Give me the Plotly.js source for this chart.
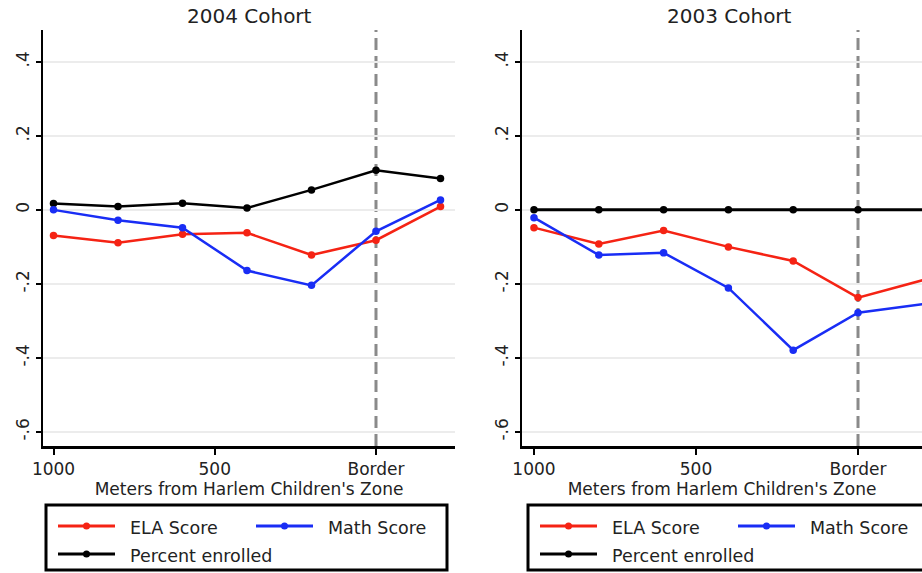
<!DOCTYPE html>
<html>
<head>
<meta charset="utf-8">
<script src="https://cdn.plot.ly/plotly-3.0.1.min.js"></script>
<style>html,body{margin:0;padding:0;background:#fff;}#chart{width:922px;height:573px;}</style>
</head>
<body>
<div id="chart"></div>
<script>
// ---- data ----
const distances = [1000, 800, 600, 400, 200, 0, -200];
const ela2004 = [-0.069, -0.089, -0.066, -0.062, -0.122, -0.082, 0.009];
const math2004 = [0.000, -0.028, -0.048, -0.164, -0.204, -0.058, 0.027];
const enrolled2004 = [0.017, 0.009, 0.018, 0.005, 0.054, 0.107, 0.085];
const ela2003 = [-0.048, -0.092, -0.056, -0.100, -0.138, -0.237, -0.190];
const math2003 = [-0.021, -0.122, -0.116, -0.211, -0.379, -0.278, -0.255];
const enrolled2003 = [0, 0, 0, 0, 0, 0, 0];
const xTickVals = [1000, 500, 0];
const xTickText = ['1000', '500', 'Border'];
const yTickVals = [0.4, 0.2, 0, -0.2, -0.4, -0.6];
const yTickText = ['.4', '.2', '0', '-.2', '-.4', '-.6'];
const borderX = 0;
const seriesNames = ['ELA Score', 'Math Score', 'Percent enrolled'];
const panelTitles = ['2004 Cohort', '2003 Cohort'];

const RED = 'rgb(245,35,20)', BLUE = 'rgb(25,45,245)', BLACK = '#000';
const FONT = 'DejaVu Sans, Verdana, sans-serif';

function tr(y, color, name, xa, ya, w) {
  return {x: distances, y: y, type: 'scatter', mode: 'lines+markers', name: name,
    xaxis: xa, yaxis: ya, cliponaxis: false, showlegend: false,
    line: {color: color, width: w || 2.5}, marker: {color: color, size: 7.5}};
}
const data = [
  tr(enrolled2004, BLACK, seriesNames[2], 'x', 'y'),
  tr(ela2004, RED, seriesNames[0], 'x', 'y'),
  tr(math2004, BLUE, seriesNames[1], 'x', 'y'),
  tr(enrolled2003, BLACK, seriesNames[2], 'x2', 'y2', 3),
  tr(ela2003, RED, seriesNames[0], 'x2', 'y2'),
  tr(math2003, BLUE, seriesNames[1], 'x2', 'y2')
];

// pixel helpers for legend layout
const ML = 43, MR = 0, MT = 30, MB = 127, W = 922, H = 573;
const PW = W - ML - MR, PH = H - MT - MB;
const px = v => (v - ML) / PW;
const py = v => (H - MB - v) / PH;

function xaxis(domain, range) {
  return {domain: domain, range: range, showgrid: false, zeroline: false,
    showline: true, linecolor: '#000', linewidth: 2.5,
    ticks: 'outside', ticklen: 6, tickwidth: 2, tickcolor: '#000',
    tickvals: xTickVals, ticktext: xTickText,
    tickfont: {family: FONT, size: 17, color: '#222'},
    title: {text: "Meters from Harlem Children's Zone", standoff: 2,
      font: {family: FONT, size: 17, color: '#222'}}};
}
function yaxis(anchor) {
  return {anchor: anchor, range: [-0.638, 0.486], zeroline: false,
    showgrid: true, gridcolor: '#ececec', gridwidth: 1.5,
    showline: true, linecolor: '#000', linewidth: 2.5,
    ticks: 'outside', ticklen: 5, tickwidth: 2, tickcolor: '#000',
    tickvals: yTickVals, ticktext: yTickText, tickangle: -90,
    tickfont: {family: FONT, size: 17, color: '#222'}};
}

const shapes = [];
const annotations = [];
[['x', 'y'], ['x2', 'y2']].forEach(([xa, ya]) => {
  shapes.push({type: 'line', layer: 'below', xref: xa, yref: ya, x0: borderX, x1: borderX, y0: -0.638, y1: 0.486,
    line: {color: '#8a8a8a', width: 3, dash: '12px,6px'}});
});

// legends
const legendLefts = [46, 528];
const legendRights = [447, 960];
legendLefts.forEach((L, i) => {
  shapes.push({type: 'rect', xref: 'paper', yref: 'paper',
    x0: px(L), x1: px(legendRights[i]), y0: py(505), y1: py(570),
    line: {color: '#000', width: 3}, fillcolor: 'rgba(0,0,0,0)'});
  const items = [
    {c: RED, name: seriesNames[0], sx: L + 12, y: 526},
    {c: BLUE, name: seriesNames[1], sx: L + 210, y: 526},
    {c: BLACK, name: seriesNames[2], sx: L + 12, y: 554}
  ];
  items.forEach(it => {
    shapes.push({type: 'line', xref: 'paper', yref: 'paper',
      x0: px(it.sx), x1: px(it.sx + 57), y0: py(it.y), y1: py(it.y),
      line: {color: it.c, width: 3}});
    shapes.push({type: 'circle', xref: 'paper', yref: 'paper',
      x0: px(it.sx + 25), x1: px(it.sx + 32), y0: py(it.y - 3.5), y1: py(it.y + 3.5),
      line: {color: it.c, width: 0}, fillcolor: it.c});
    annotations.push({xref: 'paper', yref: 'paper', x: px(it.sx + 70), y: py(it.y + 2),
      xanchor: 'left', yanchor: 'middle', showarrow: false, text: it.name,
      font: {family: FONT, size: 17.5, color: '#222'}});
  });
});

// panel titles
[[43, 455], [522, 937]].forEach(([a, b], i) => {
  annotations.push({xref: 'paper', yref: 'paper', x: px((a + b) / 2), y: py(16),
    xanchor: 'center', yanchor: 'middle', showarrow: false, text: panelTitles[i],
    font: {family: FONT, size: 20, color: '#222'}});
});

const layout = {
  width: W, height: H, margin: {l: ML, r: MR, t: MT, b: MB},
  paper_bgcolor: '#fff', plot_bgcolor: '#fff', showlegend: false,
  xaxis: xaxis([0, px(455)], [1032.6, -245]),
  xaxis2: Object.assign(xaxis([px(522), 1], [1037, -197.5]), {anchor: 'y2'}),
  yaxis: yaxis('x'),
  yaxis2: yaxis('x2'),
  shapes: shapes, annotations: annotations
};
layout.xaxis.anchor = 'y';
Plotly.newPlot('chart', data, layout, {displayModeBar: false, staticPlot: true});
</script>
</body>
</html>
